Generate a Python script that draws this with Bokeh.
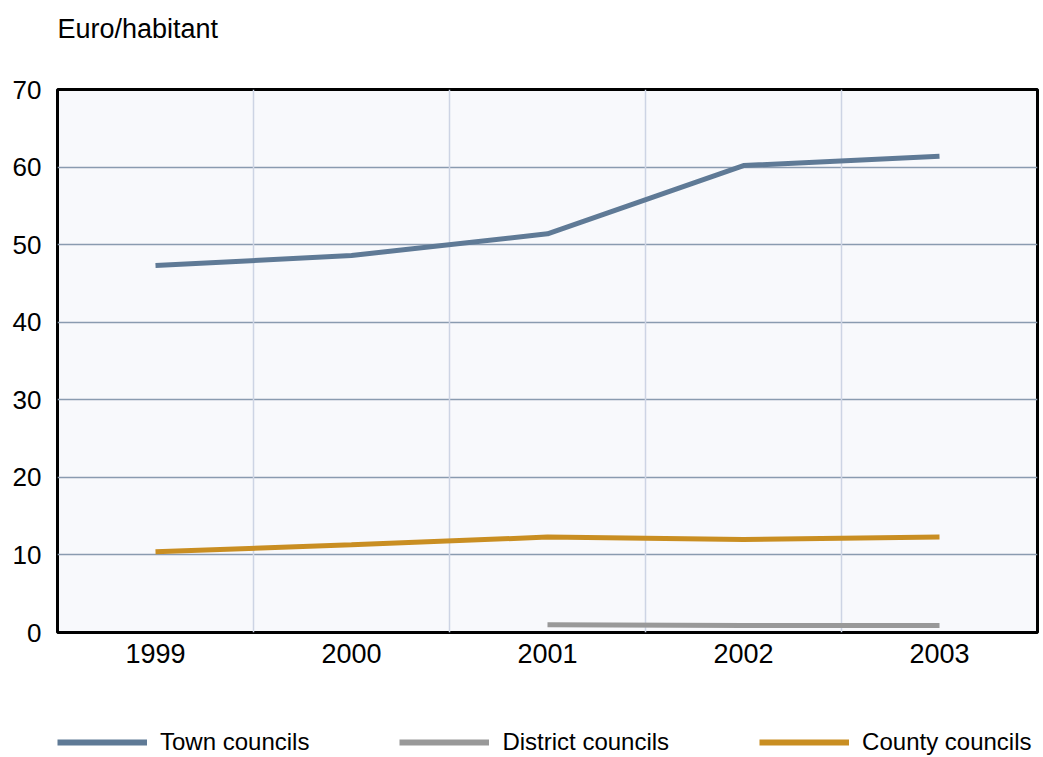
from bokeh.plotting import figure
from bokeh.layouts import column
from bokeh.models import FixedTicker, Range1d, Grid, Legend, LegendItem, Label
from bokeh.embed import file_html
from bokeh.resources import INLINE

years = ["1999", "2000", "2001", "2002", "2003"]
town = [47.3, 48.6, 51.4, 60.2, 61.4]
district_years = ["2001", "2002", "2003"]
district = [1.0, 0.9, 0.9]
county = [10.4, 11.3, 12.3, 12.0, 12.3]
y_ticks = [0, 10, 20, 30, 40, 50, 60, 70]
series_names = ["Town councils", "District councils", "County councils"]
series_colors = ["#5f7a96", "#999999", "#c98e22"]

FONT = "Liberation Sans"

xpos = {y: i + 1 for i, y in enumerate(years)}

# ---- header with the unit text ----
head = figure(width=1043, height=60, output_backend="svg", toolbar_location=None,
              x_axis_type=None, y_axis_type=None, x_range=Range1d(0, 1), y_range=Range1d(0, 1),
              min_border_left=0, min_border_right=0, min_border_top=0, min_border_bottom=0)
head.outline_line_color = None
head.grid.visible = False
head.add_layout(Label(x=0, y=32, x_units="screen", y_units="screen", text="Euro/habitant",
                      text_font=FONT, text_font_size="27px", text_color="black",
                      text_baseline="alphabetic"))

# ---- main chart ----
p = figure(width=1043, height=620, output_backend="svg", toolbar_location=None,
           x_range=Range1d(0.5, 5.5), y_range=Range1d(0, 70),
           min_border_left=57, min_border_right=6, min_border_top=29, min_border_bottom=48)
p.background_fill_color = "#f8f9fc"
p.border_fill_color = "white"
p.outline_line_color = "black"
p.outline_line_width = 3

p.xaxis.ticker = FixedTicker(ticks=[xpos[y] for y in years])
p.xaxis.major_label_overrides = {xpos[y]: y for y in years}
p.yaxis.ticker = FixedTicker(ticks=y_ticks)
for ax in (p.xaxis[0], p.yaxis[0]):
    ax.axis_line_color = None
    ax.major_tick_line_color = None
    ax.minor_tick_line_color = None
    ax.major_tick_out = 0
    ax.major_tick_in = 0
    ax.minor_tick_out = 0
    ax.major_label_text_font = FONT
    ax.major_label_text_color = "black"
p.yaxis.major_label_text_font_size = "26px"
p.xaxis.major_label_text_font_size = "27px"
p.yaxis.major_label_standoff = 16
p.xaxis.major_label_standoff = 11

p.xgrid.grid_line_color = None
p.ygrid.ticker = FixedTicker(ticks=y_ticks[1:-1])
p.ygrid.grid_line_color = "#8a9bb0"
p.ygrid.grid_line_width = 1.5
vg = Grid(dimension=0, ticker=FixedTicker(ticks=[1.5, 2.5, 3.5, 4.5]),
          grid_line_color="#cdd4e4", grid_line_width=1.5)
p.add_layout(vg)

p.line([xpos[y] for y in years], town, line_color=series_colors[0], line_width=5)
p.line([xpos[y] for y in district_years], district, line_color=series_colors[1], line_width=5)
p.line([xpos[y] for y in years], county, line_color=series_colors[2], line_width=5)

# ---- legend strip (swatch renderers use the series data, kept outside the visible range) ----
lf = figure(width=1043, height=77, output_backend="svg", toolbar_location=None,
            x_axis_type=None, y_axis_type=None, x_range=Range1d(0.5, 5.5), y_range=Range1d(500, 501),
            min_border_left=57, min_border_right=6, min_border_top=48, min_border_bottom=0)
lf.outline_line_color = None
lf.grid.visible = False
swatch_data = [([xpos[y] for y in years], town),
               ([xpos[y] for y in district_years], district),
               ([xpos[y] for y in years], county)]
items = []
for name, col, (xs, ys) in zip(series_names, series_colors, swatch_data):
    r = lf.line(x=xs, y=ys, line_color=col, line_width=6)
    items.append(LegendItem(label=name, renderers=[r]))
legend = Legend(items=items, orientation="horizontal", location="top_left",
                glyph_width=90, glyph_height=20, label_standoff=13, spacing=90,
                padding=0, margin=0, border_line_color=None, background_fill_alpha=0,
                label_text_font=FONT, label_text_font_size="24px", label_text_color="black")
lf.add_layout(legend, "center")

layout = column(head, p, lf, spacing=0)
open("out.html", "w").write(file_html(layout, INLINE))
